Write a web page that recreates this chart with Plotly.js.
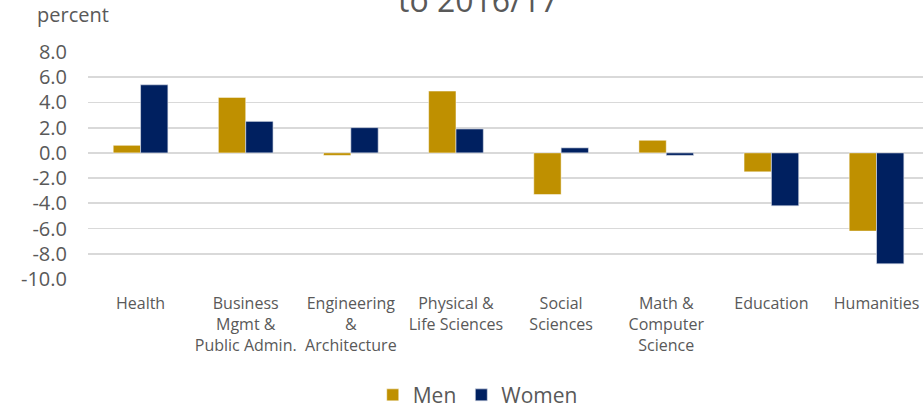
<!DOCTYPE html>
<html>
<head>
<meta charset="utf-8">
<script src="https://cdn.plot.ly/plotly-3.0.1.min.js"></script>
<style>html,body{margin:0;padding:0;background:#fff;}#chart{width:923px;height:408px;}</style>
</head>
<body>
<div id="chart"></div>
<script>
const categories = [
  "Health",
  "Business<br>Mgmt &<br>Public Admin.",
  "Engineering<br>&<br>Architecture",
  "Physical &<br>Life Sciences",
  "Social<br>Sciences",
  "Math &<br>Computer<br>Science",
  "Education",
  "Humanities"
];
const menValues = [0.6, 4.4, -0.2, 4.9, -3.3, 1.0, -1.5, -6.2];
const womenValues = [5.4, 2.5, 2.0, 1.9, 0.4, -0.2, -4.2, -8.8];
const yTicks = [8, 6, 4, 2, 0, -2, -4, -6, -8, -10];
const yTickLabels = ["8.0", "6.0", "4.0", "2.0", "0.0", "-2.0", "-4.0", "-6.0", "-8.0", "-10.0"];

const font = "Open Sans, Noto Sans, sans-serif";
const grey = "#595959";

const traces = [
  {type: "bar", name: "Men", x: categories, y: menValues,
   marker: {color: "#BF9000", line: {color: "rgba(255,255,255,0.6)", width: 0.8}}},
  {type: "bar", name: "Women", x: categories, y: womenValues,
   marker: {color: "#002060", line: {color: "rgba(220,225,235,0.8)", width: 0.8}}}
];

const layout = {
  width: 923, height: 408,
  margin: {l: 88, r: 0, t: 52, b: 129, pad: 0, autoexpand: false},
  paper_bgcolor: "#fff", plot_bgcolor: "#fff",
  barmode: "group", bargap: 0.48, bargroupgap: 0,
  font: {family: font, color: grey},
  showlegend: true,
  legend: {orientation: "h", x: 0.341, xanchor: "left", y: -0.512, yanchor: "middle",
           font: {size: 21, color: grey, family: font}, itemclick: false, traceorder: "normal"},
  xaxis: {type: "category", range: [-0.5, 7.442], showgrid: false, zeroline: false,
          showline: false, ticks: "", tickfont: {size: 16, color: grey, family: font},
          ticklabelstandoff: 13, fixedrange: true, tickangle: 0, automargin: false},
  yaxis: {range: [-10, 8], tickvals: yTicks, ticktext: yTickLabels, showgrid: true,
          gridcolor: "#d9d9d9", gridwidth: 1.7, zeroline: false, showline: false,
          ticks: "", tickfont: {size: 20, color: grey, family: font}, ticklabelstandoff: 20,
          fixedrange: true, automargin: false},
  annotations: [
    {text: "percent", xref: "paper", yref: "paper", x: -0.0635, y: 1.163,
     xanchor: "left", yanchor: "middle", showarrow: false,
     font: {size: 20, color: grey, family: font}},
    {text: "to 2016/17", xref: "paper", yref: "paper", x: (478 - 88) / 835, y: 1.233,
     xanchor: "center", yanchor: "middle", showarrow: false,
     font: {size: 32, color: grey, family: font}}
  ]
};

Plotly.newPlot("chart", traces, layout, {displayModeBar: false, staticPlot: true});
</script>
</body>
</html>
